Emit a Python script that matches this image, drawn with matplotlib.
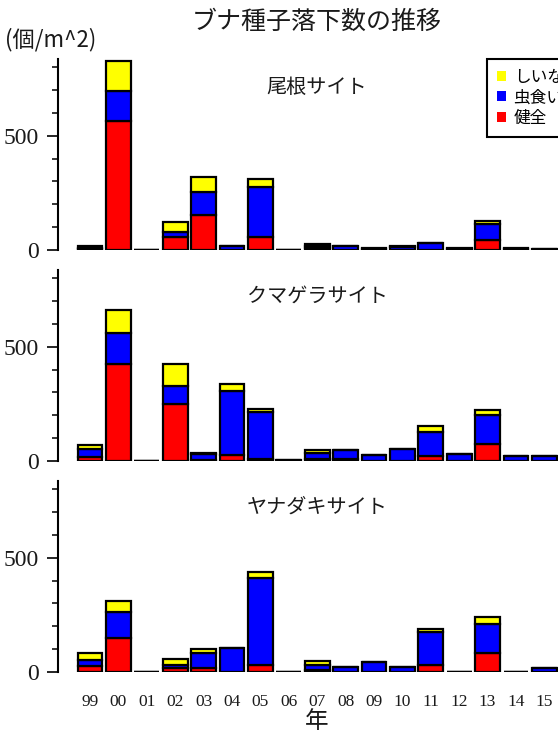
import numpy as np
import matplotlib
matplotlib.use("Agg")
import matplotlib.pyplot as plt
from matplotlib.patches import Patch

plt.rcParams['font.family'] = ['Liberation Serif', 'Noto Sans CJK JP', 'DejaVu Sans']
JP = ['Noto Sans CJK JP', 'DejaVu Sans']

years = ['99', '00', '01', '02', '03', '04', '05', '06', '07', '08',
         '09', '10', '11', '12', '13', '14', '15']
sites = ['尾根サイト', 'クマゲラサイト', 'ヤナダキサイト']

# 健全 (healthy), 虫食い (insect damaged), しいな (empty)
kenzen = [
    [4, 566, 0, 55, 153, 1, 55, 0, 8, 2, 0, 0, 2, 0, 44, 0, 0],
    [17, 426, 0, 249, 5, 25, 8, 0, 8, 10, 0, 0, 22, 0, 75, 0, 0],
    [28, 150, 0, 16, 16, 2, 30, 0, 8, 0, 0, 0, 30, 0, 83, 0, 0],
]
mushikui = [
    [6, 128, 0, 22, 101, 18, 222, 0, 9, 14, 4, 14, 30, 4, 70, 4, 3],
    [34, 132, 0, 77, 25, 279, 206, 3, 26, 36, 28, 51, 106, 29, 125, 20, 22],
    [24, 113, 0, 16, 68, 104, 383, 1, 24, 20, 44, 20, 143, 0, 129, 0, 16],
]
shiina = [
    [6, 134, 0, 44, 64, 0, 32, 0, 8, 0, 4, 2, 0, 4, 14, 4, 2],
    [21, 101, 0, 97, 6, 32, 15, 2, 12, 0, 0, 0, 23, 0, 25, 0, 0],
    [31, 47, 0, 23, 15, 0, 24, 0, 14, 0, 0, 0, 17, 0, 29, 0, 0],
]

W, H = 558, 736
fig = plt.figure(figsize=(W / 100, H / 100), dpi=100)

x = np.arange(len(years))
x0 = 58          # y axis position in px
step = 28.4      # px per category
xmin = -(90 - x0) / step
xmax = 17.5
zeros = [250, 461, 672]
ax_h = 191
tc = '#1a1a1a'

for i, site in enumerate(sites):
    left = x0 / W
    width = (xmax - xmin) * step / W
    bottom = 1 - zeros[i] / H
    ax = fig.add_axes([left, bottom, width, ax_h / H])

    r = np.array(kenzen[i])
    b = np.array(mushikui[i])
    y = np.array(shiina[i])
    kw = dict(width=0.88, edgecolor='black', linewidth=1.6)
    ax.bar(x, r, color='#ff0000', **kw)
    ax.bar(x, b, bottom=r, color='#0000ff', **kw)
    ax.bar(x, y, bottom=r + b, color='#ffff00', **kw)

    ax.set_xlim(xmin, xmax)
    ax.set_ylim(0, 835)
    for s in ['top', 'right', 'bottom']:
        ax.spines[s].set_visible(False)
    ax.spines['left'].set_linewidth(1.5)
    ax.set_yticks([0, 500])
    ax.set_yticks(np.arange(100, 900, 100), minor=True)
    ax.tick_params(axis='y', which='major', length=8, width=1.2, pad=6,
                   labelsize=17, labelcolor=tc)
    ax.tick_params(axis='y', which='minor', length=4, width=1.1)
    ax.set_xticks(x)
    if i == 2:
        ax.set_xticklabels(years)
        ax.tick_params(axis='x', length=0, pad=16, labelsize=12.5, labelcolor=tc)
    else:
        ax.set_xticklabels([])
        ax.tick_params(axis='x', length=0)

fig.text(317 / W, 1 - 87 / H, sites[0], ha='center', va='center', fontsize=14.5, family=JP, color=tc)
fig.text(317 / W, 1 - 296 / H, sites[1], ha='center', va='center', fontsize=14.5, family=JP, color=tc)
fig.text(317 / W, 1 - 507 / H, sites[2], ha='center', va='center', fontsize=14.5, family=JP, color=tc)

fig.text(317 / W, 1 - 22 / H, 'ブナ種子落下数の推移', ha='center', va='center', fontsize=18, family=JP, color=tc)
fig.text(5 / W, 1 - 40 / H, '(個/m^2)', ha='left', va='center', fontsize=16, family=JP, color=tc)
fig.text(317 / W, 1 - 721 / H, '年', ha='center', va='center', fontsize=17, family=JP, color=tc)

handles = [Patch(facecolor='#ffff00', edgecolor='none'),
           Patch(facecolor='#0000ff', edgecolor='none'),
           Patch(facecolor='#ff0000', edgecolor='none')]
leg = fig.legend(handles, ['しいな', '虫食い', '健全'], loc='upper left',
                 bbox_to_anchor=(487 / W, 1 - 59 / H), prop={'family': JP, 'size': 12},
                 handlelength=0.55, handleheight=0.55, handletextpad=0.45,
                 labelspacing=0.2, borderpad=0.6, fancybox=False, framealpha=1,
                 edgecolor='black', borderaxespad=0)
leg.get_frame().set_linewidth(1.5)

fig.savefig('out.png', dpi=100)
